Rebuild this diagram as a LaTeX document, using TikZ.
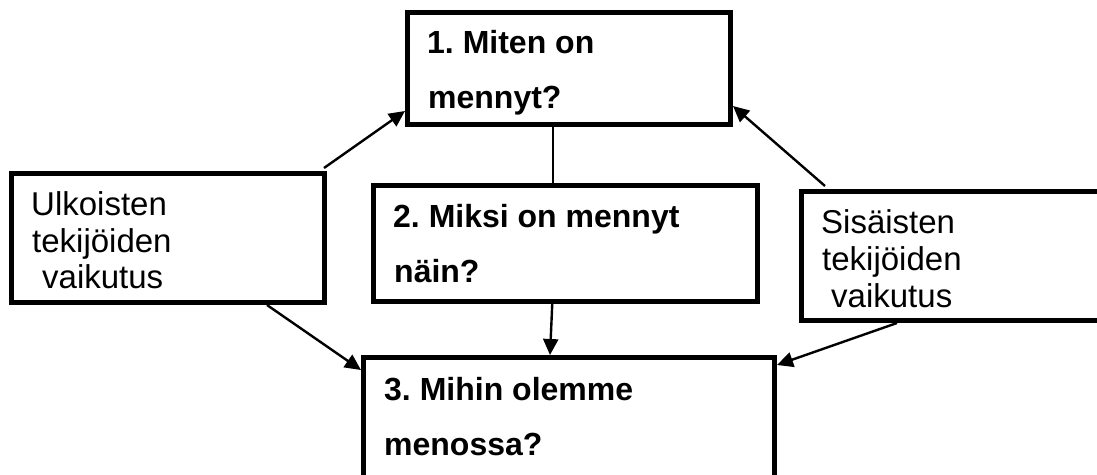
\documentclass[tikz,border=0pt]{standalone}
\usepackage{fontspec}
\setmainfont{Liberation Sans}
\usetikzlibrary{arrows.meta,calc}
\begin{document}
\frenchspacing
\begin{tikzpicture}[x=1pt,y=-1pt,
  box/.style={draw, line width=5pt, inner sep=0pt},
  conn/.style={line width=2.4pt},
  arr/.style={conn, -{Triangle[length=16pt,width=15pt]}},
  qtext/.style={font=\fontsize{32}{37}\selectfont\bfseries, anchor=base west, inner sep=0pt},
  ptext/.style={font=\fontsize{33}{37}\selectfont, anchor=base west, inner sep=0pt}]
\useasboundingbox (0,0) rectangle (1097,474);
\fill[white] (0,0) rectangle (1097,474);
\clip (0,0) rectangle (1097,474);
% boxes
\node[box, minimum width=323pt, minimum height=112.5pt] (B1) at (569,68.25) {};
\node[box, minimum width=383.5pt, minimum height=116.5pt] (B2) at (565.25,243.25) {};
\node[box, minimum width=313.5pt, minimum height=129pt] (L) at (167.75,238) {};
\node[box, minimum width=318.5pt, minimum height=129pt] (R) at (960.75,256) {};
\node[box, minimum width=411pt, minimum height=142.5pt] (B3) at (569,428.75) {};
% texts
\node[qtext] (t1a) at (427,53) {1. Miten on};
\node[qtext] (t1b) at (428,108) {mennyt?};
\node[qtext] (t2a) at (393,227) {2. Miksi on mennyt};
\node[qtext] (t2b) at (394,282) {näin?};
\node[qtext] (t3a) at (384,400) {3. Mihin olemme};
\node[qtext] (t3b) at (384,455) {menossa?};
\node[ptext] (lta) at (31,215) {Ulkoisten};
\node[ptext] (ltb) at (32,252) {tekijöiden};
\node[ptext] (ltc) at (42,288) {vaikutus};
\node[ptext] (rta) at (821,233) {Sisäisten};
\node[ptext] (rtb) at (822,270) {tekijöiden};
\node[ptext] (rtc) at (831,307) {vaikutus};
% connectors
\coordinate (mx) at (553,0);
\draw[conn] (mx |- B1.south) -- (mx |- B2.north);
\draw[arr] ([xshift=-3pt,yshift=3pt]L.north east) -- ([yshift=16pt]B1.south west);
\draw[arr] ([xshift=26pt,yshift=3pt]R.north west) -- ([yshift=21pt]B1.south east);
\draw[arr] ([xshift=-13pt]B2.south) -- ([xshift=-19pt]B3.north);
\draw[arr] ([xshift=-60pt]L.south east) -- ([yshift=-15pt]B3.north west);
\draw[arr] ([xshift=98pt]R.south west) -- ([yshift=-10pt]B3.north east);
\end{tikzpicture}
\end{document}
